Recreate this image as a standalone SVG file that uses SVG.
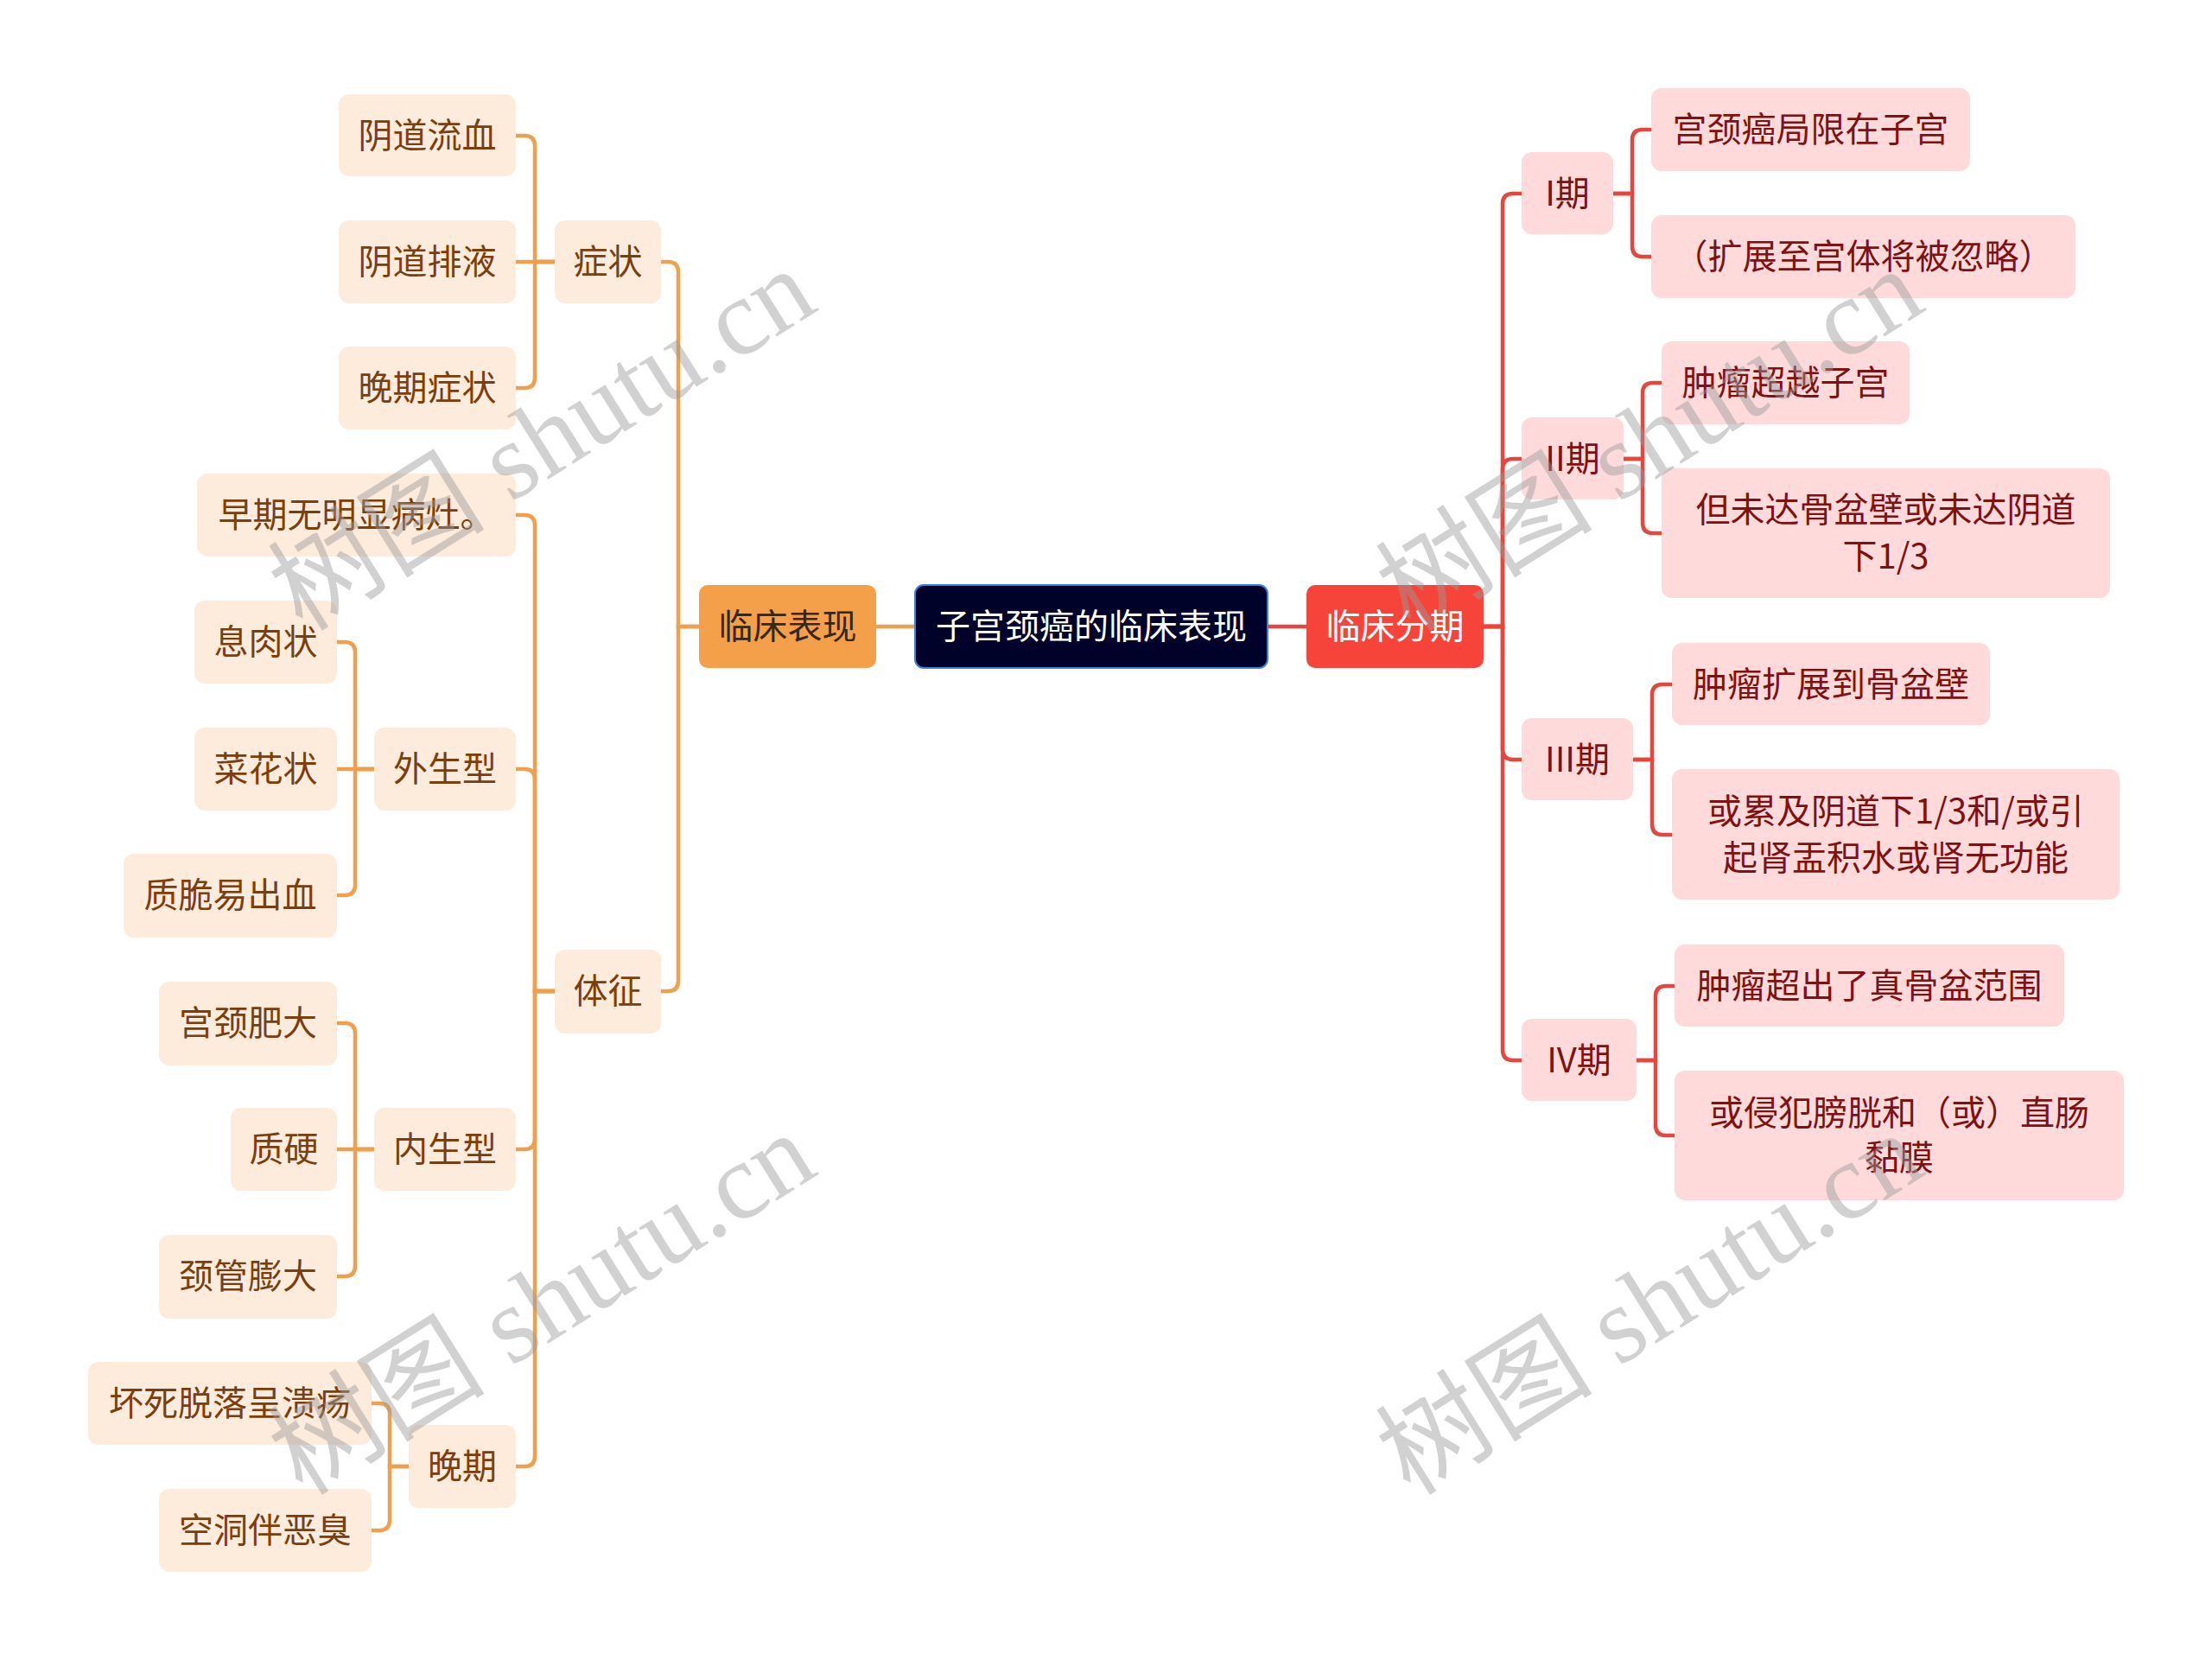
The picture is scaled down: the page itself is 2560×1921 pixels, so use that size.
<svg xmlns="http://www.w3.org/2000/svg" width="2560" height="1921" viewBox="0 0 2560 1921">
<style>
text{font-family:"Noto Sans CJK SC","Noto Sans",sans-serif;font-size:40px;text-anchor:middle}
.lf{fill:#FDEBDC}
.lt{fill:#7B3F0E}
.rf{fill:#FEDADA}
.rt{fill:#7E1212}
.ol{stroke:#EFA04F;stroke-width:4.5;fill:none}
.rl{stroke:#E5473F;stroke-width:4.5;fill:none}
.wm{font-family:"Liberation Serif","Noto Sans CJK SC",serif;font-size:126px;fill:#9a9a9a;fill-opacity:0.45}
</style>
<rect width="2560" height="1921" fill="#ffffff"/>
<g id="connectors">
<path class="ol" d="M1059 725 H1014"/>
<path class="ol" d="M809 725 H785 V315 Q785 303 773 303 H765"/>
<path class="ol" d="M809 725 H785 V1135 Q785 1147 773 1147 H765"/>
<path class="ol" d="M642 303 H619 V169 Q619 157 607 157 H597"/>
<path class="ol" d="M642 303 H597"/>
<path class="ol" d="M642 303 H619 V437 Q619 449 607 449 H597"/>
<path class="ol" d="M642 1147 H619 V608 Q619 596 607 596 H597"/>
<path class="ol" d="M642 1147 H619 V902 Q619 890 607 890 H597"/>
<path class="ol" d="M642 1147 H619 V1318 Q619 1330 607 1330 H597"/>
<path class="ol" d="M642 1147 H619 V1685 Q619 1697 607 1697 H597"/>
<path class="ol" d="M433 890 H411 V755 Q411 743 399 743 H390"/>
<path class="ol" d="M433 890 H390"/>
<path class="ol" d="M433 890 H411 V1024 Q411 1036 399 1036 H390"/>
<path class="ol" d="M433 1330 H411 V1196 Q411 1184 399 1184 H390"/>
<path class="ol" d="M433 1330 H390"/>
<path class="ol" d="M433 1330 H411 V1465 Q411 1477 399 1477 H390"/>
<path class="ol" d="M473 1697 H451 V1636 Q451 1624 439 1624 H430"/>
<path class="ol" d="M473 1697 H451 V1759 Q451 1771 439 1771 H430"/>
<path class="rl" d="M1467 725 H1512"/>
<path class="rl" d="M1717 725 H1739 V236 Q1739 224 1751 224 H1761"/>
<path class="rl" d="M1717 725 H1739 V543 Q1739 531 1751 531 H1761"/>
<path class="rl" d="M1717 725 H1739 V867 Q1739 879 1751 879 H1761"/>
<path class="rl" d="M1717 725 H1739 V1215 Q1739 1227 1751 1227 H1761"/>
<path class="rl" d="M1867 224 H1889 V162 Q1889 150 1901 150 H1911"/>
<path class="rl" d="M1867 224 H1889 V285 Q1889 297 1901 297 H1911"/>
<path class="rl" d="M1879 531 H1901 V455 Q1901 443 1913 443 H1923"/>
<path class="rl" d="M1879 531 H1901 V605 Q1901 617 1913 617 H1923"/>
<path class="rl" d="M1890 879 H1912 V804 Q1912 792 1924 792 H1935"/>
<path class="rl" d="M1890 879 H1912 V954 Q1912 966 1924 966 H1935"/>
<path class="rl" d="M1894 1227 H1916 V1153 Q1916 1141 1928 1141 H1938"/>
<path class="rl" d="M1894 1227 H1916 V1302 Q1916 1314 1928 1314 H1938"/>
</g>
<g id="root"><rect x="1059" y="677" width="408" height="96" rx="10" fill="#000229" stroke="#3F7FE0" stroke-width="2"/><text x="1263" y="739" fill="#ffffff">子宫颈癌的临床表现</text></g>
<g id="n-linchuangbiaoxian"><rect x="809" y="677" width="205" height="96" rx="10" fill="#F4A04A"/><text x="911.5" y="739" fill="#3a2614">临床表现</text></g>
<g id="n-linchuangfenqi"><rect x="1512" y="677" width="205" height="96" rx="10" fill="#F6443B"/><text x="1614.5" y="739" fill="#ffffff">临床分期</text></g>
<g id="n-zhengzhuang"><rect class="lf" x="642" y="255" width="123" height="96" rx="12"/><text class="lt" x="703.5" y="317">症状</text></g>
<g id="n-yindaoliuxue"><rect class="lf" x="392" y="109" width="205" height="95" rx="12"/><text class="lt" x="494.5" y="171">阴道流血</text></g>
<g id="n-yindaopaiye"><rect class="lf" x="392" y="255" width="205" height="96" rx="12"/><text class="lt" x="494.5" y="317">阴道排液</text></g>
<g id="n-wanqizhengzhuang"><rect class="lf" x="392" y="401" width="205" height="96" rx="12"/><text class="lt" x="494.5" y="463">晚期症状</text></g>
<g id="n-tizheng"><rect class="lf" x="642" y="1099" width="123" height="97" rx="12"/><text class="lt" x="703.5" y="1161">体征</text></g>
<g id="n-zaoqi"><rect class="lf" x="228" y="548" width="369" height="96" rx="12"/><text class="lt" x="412.5" y="610">早期无明显病灶。</text></g>
<g id="n-waishengxing"><rect class="lf" x="433" y="842" width="164" height="96" rx="12"/><text class="lt" x="515" y="904">外生型</text></g>
<g id="n-xirouzhuang"><rect class="lf" x="225" y="695" width="165" height="96" rx="12"/><text class="lt" x="307.5" y="757">息肉状</text></g>
<g id="n-caihuazhuang"><rect class="lf" x="225" y="842" width="165" height="96" rx="12"/><text class="lt" x="307.5" y="904">菜花状</text></g>
<g id="n-zhicui"><rect class="lf" x="143" y="988" width="247" height="97" rx="12"/><text class="lt" x="266.5" y="1050">质脆易出血</text></g>
<g id="n-neishengxing"><rect class="lf" x="433" y="1282" width="164" height="96" rx="12"/><text class="lt" x="515" y="1344">内生型</text></g>
<g id="n-gongjingfeida"><rect class="lf" x="184" y="1136" width="206" height="97" rx="12"/><text class="lt" x="287" y="1198">宫颈肥大</text></g>
<g id="n-zhiying"><rect class="lf" x="267" y="1282" width="123" height="96" rx="12"/><text class="lt" x="328.5" y="1344">质硬</text></g>
<g id="n-jingguan"><rect class="lf" x="184" y="1429" width="206" height="97" rx="12"/><text class="lt" x="287" y="1491">颈管膨大</text></g>
<g id="n-wanqi"><rect class="lf" x="473" y="1649" width="124" height="96" rx="12"/><text class="lt" x="535" y="1711">晚期</text></g>
<g id="n-huaisi"><rect class="lf" x="102" y="1576" width="328" height="96" rx="12"/><text class="lt" x="266" y="1638">坏死脱落呈溃疡</text></g>
<g id="n-kongdong"><rect class="lf" x="184" y="1723" width="246" height="96" rx="12"/><text class="lt" x="307" y="1785">空洞伴恶臭</text></g>
<g id="n-q1"><rect class="rf" x="1761" y="176" width="106" height="95" rx="12"/><text class="rt" x="1814" y="238">I期</text></g>
<g id="n-q1a"><rect class="rf" x="1911" y="102" width="369" height="96" rx="12"/><text class="rt" x="2095.5" y="164">宫颈癌局限在子宫</text></g>
<g id="n-q1b"><rect class="rf" x="1911" y="249" width="491" height="96" rx="12"/><text class="rt" x="2156.5" y="311">（扩展至宫体将被忽略）</text></g>
<g id="n-q2"><rect class="rf" x="1761" y="483" width="118" height="95" rx="12"/><text class="rt" x="1820" y="545">II期</text></g>
<g id="n-q2a"><rect class="rf" x="1923" y="395" width="287" height="96" rx="12"/><text class="rt" x="2066.5" y="457">肿瘤超越子宫</text></g>
<g id="n-q2b"><rect class="rf" x="1923" y="542" width="519" height="150" rx="12"/><text class="rt" x="2182.5" y="604">但未达骨盆壁或未达阴道</text><text class="rt" x="2182.5" y="658">下1/3</text></g>
<g id="n-q3"><rect class="rf" x="1761" y="831" width="129" height="95" rx="12"/><text class="rt" x="1825.5" y="893">III期</text></g>
<g id="n-q3a"><rect class="rf" x="1935" y="744" width="368" height="95" rx="12"/><text class="rt" x="2119" y="806">肿瘤扩展到骨盆壁</text></g>
<g id="n-q3b"><rect class="rf" x="1935" y="890" width="518" height="151" rx="12"/><text class="rt" x="2194" y="953">或累及阴道下1/3和/或引</text><text class="rt" x="2194" y="1007">起肾盂积水或肾无功能</text></g>
<g id="n-q4"><rect class="rf" x="1761" y="1179" width="133" height="95" rx="12"/><text class="rt" x="1827.5" y="1241">IV期</text></g>
<g id="n-q4a"><rect class="rf" x="1938" y="1093" width="451" height="95" rx="12"/><text class="rt" x="2163.5" y="1155">肿瘤超出了真骨盆范围</text></g>
<g id="n-q4b"><rect class="rf" x="1938" y="1239" width="520" height="150" rx="12"/><text class="rt" x="2198" y="1302">或侵犯膀胱和（或）直肠</text><text class="rt" x="2198" y="1354">黏膜</text></g>
<g id="watermarks">
<text class="wm" transform="translate(650 545) rotate(-32)">树图 shutu.cn</text>
<text class="wm" transform="translate(650 1545) rotate(-32)">树图 shutu.cn</text>
<text class="wm" transform="translate(1932 545) rotate(-32)">树图 shutu.cn</text>
<text class="wm" transform="translate(1932 1545) rotate(-32)">树图 shutu.cn</text>
</g>
</svg>
